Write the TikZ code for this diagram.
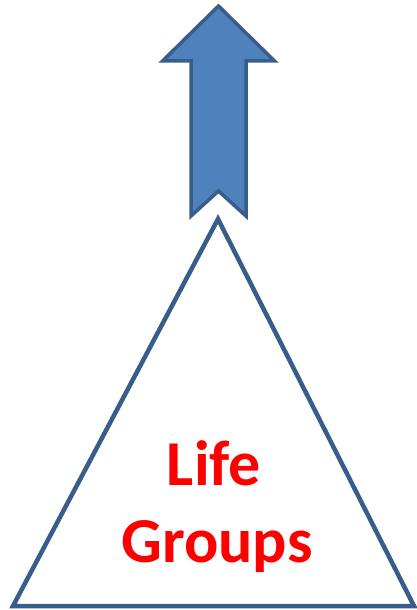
\documentclass[tikz,border=0pt]{standalone}
\usepackage{fontspec}
\setmainfont{Carlito}
\usepackage{tikz}
\definecolor{arrowblue}{RGB}{79,129,189}
\definecolor{edgeblue}{RGB}{56,93,138}
\definecolor{labelred}{RGB}{255,0,0}

\begin{document}
\begin{tikzpicture}[x=1pt, y=-1pt,
    outline/.style={draw=edgeblue, line width=3.5pt, line join=miter},
    label/.style={text=labelred, font=\fontsize{64}{77}\selectfont\bfseries,
        inner sep=0pt}
]
    \useasboundingbox (0,0) rectangle (417,610);

    % Upward notched arrow
    \draw[outline, fill=arrowblue]
        (218.5,6) -- (274.5,61) -- (246,61) -- (246,216) -- (218.5,191)
        -- (191,216) -- (191,61) -- (162.5,61) -- cycle;

    % Triangle
    \draw[outline, line width=4.5pt]
        (218,219) -- (414,606) -- (13,606) -- cycle;

    % Text
    \node[label, anchor=base] (life) at (214,485) {Life};
    \node[label, anchor=base] (groups) at (217,562) {Groups};
\end{tikzpicture}
\end{document}
